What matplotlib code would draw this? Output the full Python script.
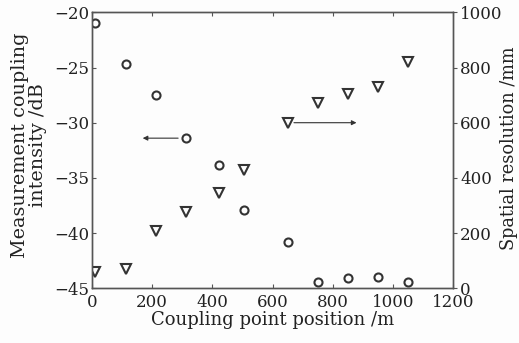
import matplotlib.pyplot as plt
from matplotlib.ticker import MultipleLocator

# values
position_m = [10, 113, 213, 313, 423, 506, 650, 750, 850, 950, 1050]
coupling_db = [-21.0, -24.7, -27.5, -31.4, -33.8, -37.9, -40.8, -44.4, -44.1, -44.0, -44.4]
resolution_mm = [60, 70, 209, 278, 346, 429, 600, 670, 704, 730, 820]

# arrows marking which series goes to which axis
left_arrow = {"start": (296, -31.4), "end": (160, -31.4)}
right_arrow = {"start": (662, 600), "end": (888, 600)}

ink = "#333333"
spine_col = "#555555"
txt_col = "#222222"

plt.rcParams["font.family"] = ["DejaVu Serif"]
plt.rcParams["axes.unicode_minus"] = True

fig = plt.figure(figsize=(5.19, 3.43), dpi=100)
fig.patch.set_facecolor("#fdfdfd")
ax = fig.add_axes([0.1767, 0.1595, 0.6967, 0.8046])
ax.set_facecolor("#fdfdfd")
ax2 = ax.twinx()

ax.plot(position_m, coupling_db, "o", ms=5.8, mfc="none", mec=ink, mew=1.5, ls="none")
ax2.plot(position_m, resolution_mm, "v", ms=6.5, mfc="none", mec=ink, mew=1.5, ls="none")

ax.annotate("", xy=left_arrow["end"], xytext=left_arrow["start"],
            arrowprops=dict(arrowstyle="-|>", color=ink, lw=0.8, mutation_scale=7))
ax2.annotate("", xy=right_arrow["end"], xytext=right_arrow["start"],
             arrowprops=dict(arrowstyle="-|>", color=ink, lw=0.8, mutation_scale=7))

ax.set_xlim(0, 1200)
ax.set_ylim(-45, -20)
ax2.set_ylim(0, 1000)
ax.xaxis.set_major_locator(MultipleLocator(200))
ax.yaxis.set_major_locator(MultipleLocator(5))
ax2.yaxis.set_major_locator(MultipleLocator(200))

fs = 12
ax.tick_params(axis="both", direction="in", length=3, width=0.8, color=spine_col,
               labelsize=fs, labelcolor=txt_col, top=True, right=False, pad=2)
ax.tick_params(axis="x", pad=4)
ax2.tick_params(axis="y", direction="out", length=3, width=0.8, color=spine_col,
                labelsize=fs, labelcolor=txt_col, pad=2)

for a in (ax, ax2):
    for sp in a.spines.values():
        sp.set_color(spine_col)
        sp.set_linewidth(1.0)

ax.set_xlabel("Coupling point position /m", fontsize=13, color=txt_col, labelpad=0)
fig.text(29 / 519, 1 - 145 / 343, "Measurement coupling\nintensity /dB", fontsize=13.8,
         color=txt_col, rotation=90, ha="center", va="center", multialignment="center",
         linespacing=1.05)
fig.text(509 / 519, 1 - 148 / 343, "Spatial resolution /mm", fontsize=12.8, color=txt_col,
         rotation=90, ha="center", va="center")

fig.savefig("out.png", dpi=100, facecolor=fig.get_facecolor())
